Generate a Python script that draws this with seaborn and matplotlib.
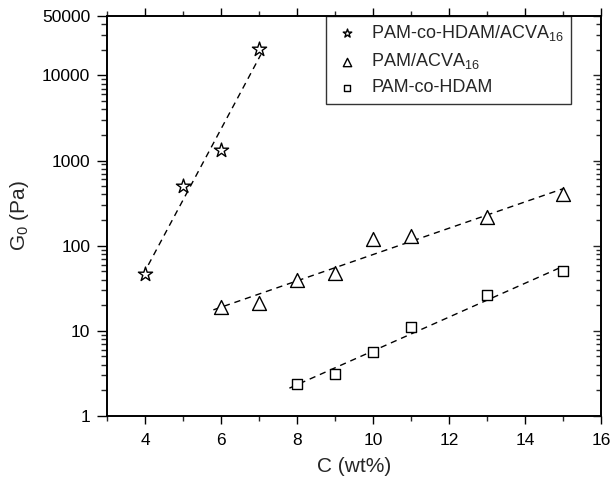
import numpy as np
import pandas as pd
import matplotlib
matplotlib.use("Agg")
import matplotlib.pyplot as plt
import seaborn as sns
from matplotlib.ticker import LogLocator, FixedLocator, NullFormatter

sns.set_style("ticks")
plt.rcParams['font.family'] = ['Liberation Sans', 'DejaVu Sans']
plt.rcParams['mathtext.fontset'] = 'custom'
plt.rcParams['mathtext.rm'] = 'Liberation Sans'
plt.rcParams['mathtext.it'] = 'Liberation Sans'

# Data
star_x = [4, 5, 6, 7]
star_y = [47, 505, 1320, 20600]
tri_x = [6, 7, 8, 9, 10, 11, 13, 15]
tri_y = [19, 21, 40, 48, 120, 130, 215, 400]
sq_x = [8, 9, 10, 11, 13, 15]
sq_y = [2.4, 3.1, 5.6, 11, 26, 50]

labels = [r'PAM-co-HDAM/ACVA$_{16}$', r'PAM/ACVA$_{16}$', 'PAM-co-HDAM']
fit_ranges = [(3.95, 7.05), (5.8, 15.0), (7.8, 15.0)]
yticks = [1, 10, 100, 1000, 10000, 50000]
yticklabels = ['1', '10', '100', '1000', '10000', '50000']

fig = plt.figure(figsize=(6.11, 4.82), dpi=100)
ax = fig.add_axes([0.1751, 0.137, 0.8085, 0.830])

series = [(star_x, star_y, '*', 115, labels[0]),
          (tri_x, tri_y, '^', 100, labels[1]),
          (sq_x, sq_y, 's', 60, labels[2])]

for (xs, ys, m, s, lab), (x0, x1) in zip(series, fit_ranges):
    df = pd.DataFrame({'C': xs, 'G': ys})
    # exponential fit line (linear in log space)
    p = np.polyfit(df['C'], np.log10(df['G']), 1)
    xf = np.linspace(x0, x1, 50)
    fit = pd.DataFrame({'C': xf, 'G': 10 ** np.polyval(p, xf)})
    sns.lineplot(data=fit, x='C', y='G', ax=ax, color='black', lw=1.0,
                 linestyle=(0, (4.5, 3.5)), legend=False)
    sns.scatterplot(data=df, x='C', y='G', ax=ax, marker=m, s=s,
                    facecolor='white', edgecolor='black', linewidth=1.0,
                    label=lab, zorder=3)

ax.set_yscale('log')
ax.set_xlim(3, 16)
ax.set_ylim(1, 50000)
ax.xaxis.set_major_locator(FixedLocator([4, 6, 8, 10, 12, 14, 16]))
ax.xaxis.set_minor_locator(FixedLocator([3, 5, 7, 9, 11, 13, 15]))
ax.yaxis.set_major_locator(FixedLocator(yticks))
ax.set_yticklabels(yticklabels)
ax.yaxis.set_minor_locator(LogLocator(base=10, subs=np.arange(2, 10)))
ax.yaxis.set_minor_formatter(NullFormatter())

ax.tick_params(axis='both', labelsize=12.5, colors='black')
ax.tick_params(axis='x', which='major', direction='out', length=6, width=1, top=True, pad=6)
ax.tick_params(axis='x', which='minor', direction='out', length=3.5, width=1, top=True)
ax.tick_params(axis='y', which='major', direction='out', length=7, width=1, right=False, pad=5)
ax.tick_params(axis='y', which='minor', direction='out', length=4, width=1, right=False)

# right-hand axis with inward ticks
ax2 = ax.twinx()
ax2.set_yscale('log')
ax2.set_ylim(1, 50000)
ax2.yaxis.set_major_locator(FixedLocator(yticks))
ax2.yaxis.set_minor_locator(LogLocator(base=10, subs=np.arange(2, 10)))
ax2.yaxis.set_major_formatter(NullFormatter())
ax2.yaxis.set_minor_formatter(NullFormatter())
ax2.tick_params(axis='y', which='major', direction='in', length=6, width=1)
ax2.tick_params(axis='y', which='minor', direction='in', length=3.5, width=1)

for a in (ax, ax2):
    for sp in a.spines.values():
        sp.set_visible(True)
        sp.set_color('black')
        sp.set_linewidth(1.2)

ax.set_xlabel('C (wt%)', fontsize=15, labelpad=7)
ax.set_ylabel(r'G$_0$ (Pa)', fontsize=15, labelpad=8)

leg = ax.legend(loc='upper right', bbox_to_anchor=(0.94, 1.0), fontsize=13,
                frameon=True, fancybox=False, edgecolor='black',
                markerscale=0.6, handletextpad=0.6, borderpad=0.4,
                labelspacing=0.45, borderaxespad=0, handlelength=1.5)
leg.get_frame().set_linewidth(1.0)
leg.set_zorder(5)

fig.savefig('out.png', dpi=100)
